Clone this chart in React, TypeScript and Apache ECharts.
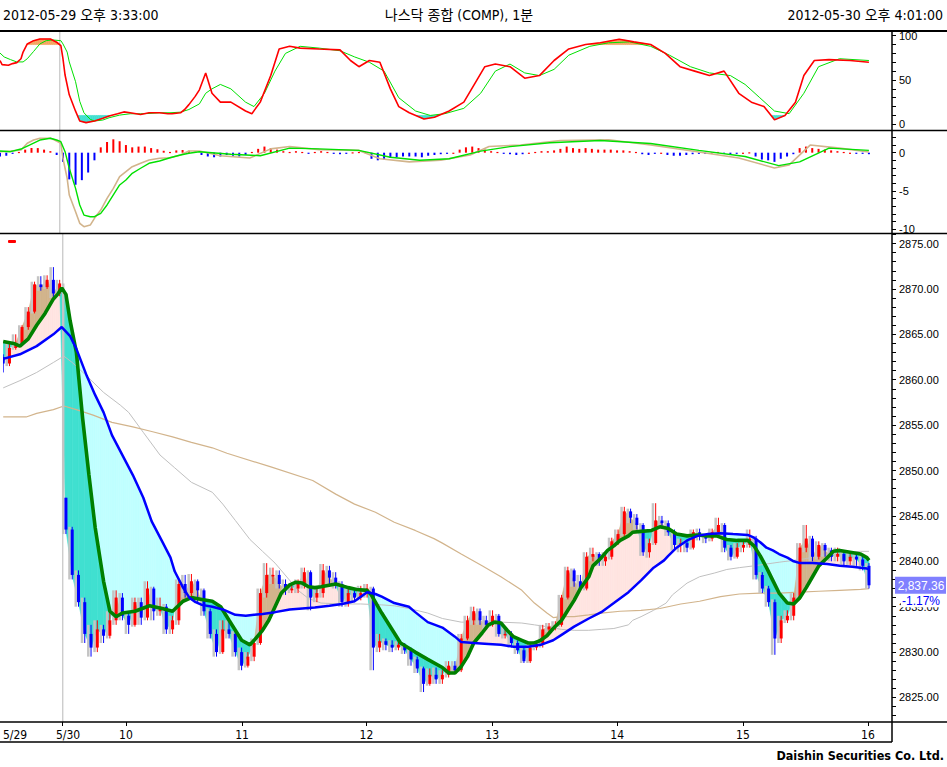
import React, { useEffect, useRef } from "react";
import * as echarts from "echarts";

// ---------------- data ----------------
const CANDLE_MINUTES = 3; // one candle per 3 one-minute bars
const opens = [
  2862.5, 2861.8, 2863.5, 2864.0, 2865.8, 2867.5, 2870.5, 2870.2, 2871.0, 2869.5,
  2847.0, 2843.5, 2838.5, 2835.5, 2832.0, 2830.5, 2832.5, 2831.8, 2833.5, 2836.0,
  2834.0, 2833.0, 2835.5, 2833.8, 2837.0, 2834.5, 2835.0, 2832.5, 2833.5, 2837.5,
  2836.5, 2837.8, 2836.8, 2834.5, 2832.0, 2830.0, 2832.5, 2832.0, 2830.0, 2828.5,
  2829.5, 2831.0, 2836.5, 2838.5, 2838.5, 2837.5, 2836.8, 2837.0, 2837.5, 2838.8,
  2836.0, 2836.5, 2839.0, 2838.2, 2837.5, 2835.5, 2836.5, 2836.0, 2836.5, 2837.0,
  2830.5, 2831.2, 2830.8, 2830.5, 2830.8, 2830.2, 2829.2, 2828.2, 2826.5, 2827.5,
  2827.0, 2827.5, 2828.5, 2828.0, 2831.5, 2833.5, 2834.5, 2833.5, 2833.0, 2834.0,
  2832.0, 2832.0, 2831.0, 2830.2, 2829.0, 2830.5, 2830.8, 2832.5, 2832.8, 2833.0,
  2836.0, 2839.0, 2837.8, 2837.0, 2840.5, 2840.8, 2840.0, 2840.5, 2842.2, 2843.0,
  2845.5, 2844.8, 2844.0, 2841.0, 2842.0, 2844.5, 2844.2, 2843.2, 2841.8, 2842.0,
  2841.5, 2843.2, 2842.8, 2842.5, 2843.2, 2844.0, 2841.5, 2840.5, 2841.5, 2841.8,
  2842.5, 2838.5, 2837.0, 2835.5, 2831.5, 2833.5, 2834.0, 2836.0, 2841.5, 2842.5,
  2840.5, 2841.8, 2841.2, 2840.5, 2840.8, 2840.0, 2840.5, 2840.2, 2839.5,
];
const closes = [
  2861.8, 2863.5, 2864.0, 2865.8, 2867.5, 2870.5, 2870.2, 2871.0, 2869.5, 2870.6,
  2843.5, 2838.5, 2835.5, 2832.0, 2830.5, 2832.5, 2831.8, 2833.5, 2836.0, 2834.0,
  2833.0, 2835.5, 2833.8, 2837.0, 2834.5, 2835.0, 2832.5, 2833.5, 2837.5, 2836.5,
  2837.8, 2836.8, 2834.5, 2832.0, 2830.0, 2832.5, 2832.0, 2830.0, 2828.5, 2829.5,
  2831.0, 2836.5, 2838.5, 2838.5, 2837.5, 2836.8, 2837.0, 2837.5, 2838.8, 2836.0,
  2836.5, 2839.0, 2838.2, 2837.5, 2835.5, 2836.5, 2836.0, 2836.5, 2837.0, 2830.5,
  2831.2, 2830.8, 2830.5, 2830.8, 2830.2, 2829.2, 2828.2, 2826.5, 2827.5, 2827.0,
  2827.5, 2828.5, 2828.0, 2831.5, 2833.5, 2834.5, 2833.5, 2833.0, 2834.0, 2832.0,
  2832.0, 2831.0, 2830.2, 2829.0, 2830.5, 2830.8, 2832.5, 2832.8, 2833.0, 2836.0,
  2839.0, 2837.8, 2837.0, 2840.5, 2840.8, 2840.0, 2840.5, 2842.2, 2843.0, 2845.5,
  2844.8, 2844.0, 2841.0, 2842.0, 2844.5, 2844.2, 2843.2, 2841.8, 2842.0, 2841.5,
  2843.2, 2842.8, 2842.5, 2843.2, 2844.0, 2841.5, 2840.5, 2841.5, 2841.8, 2842.5,
  2838.5, 2837.0, 2835.5, 2831.5, 2833.5, 2834.0, 2836.0, 2841.5, 2842.5, 2840.5,
  2841.8, 2841.2, 2840.5, 2840.8, 2840.0, 2840.5, 2840.2, 2839.5, 2837.36,
];
const lows = [
  2860.8, 2861.5, 2863.3, 2863.8, 2865.5, 2867.3, 2869.8, 2870.0, 2869.0, 2869.2,
  2843.0, 2838.0, 2835.0, 2831.0, 2829.5, 2830.0, 2831.0, 2831.5, 2833.0, 2833.5,
  2832.0, 2832.8, 2833.0, 2833.5, 2833.5, 2834.0, 2832.0, 2832.0, 2833.0, 2836.0,
  2836.0, 2835.5, 2834.0, 2831.5, 2829.5, 2829.8, 2831.5, 2829.5, 2828.0, 2828.3,
  2829.0, 2830.8, 2836.0, 2837.5, 2837.0, 2836.3, 2836.5, 2836.5, 2837.0, 2834.6,
  2835.5, 2836.0, 2837.5, 2837.0, 2835.0, 2835.0, 2835.5, 2835.7, 2836.0, 2828.0,
  2830.0, 2830.2, 2830.0, 2830.2, 2829.8, 2828.5, 2827.7, 2825.6, 2826.3, 2826.5,
  2826.5, 2827.2, 2827.7, 2827.8, 2831.3, 2833.0, 2833.0, 2832.5, 2832.8, 2831.7,
  2831.5, 2830.5, 2829.8, 2828.8, 2828.8, 2830.2, 2830.5, 2832.2, 2832.4, 2832.8,
  2835.8, 2837.2, 2836.8, 2836.8, 2840.0, 2839.5, 2839.5, 2840.2, 2841.8, 2842.8,
  2844.2, 2843.5, 2840.6, 2840.4, 2841.8, 2843.6, 2842.8, 2841.2, 2841.0, 2841.0,
  2841.3, 2842.3, 2842.0, 2842.2, 2843.0, 2841.0, 2840.1, 2840.3, 2841.0, 2841.5,
  2838.0, 2836.5, 2835.0, 2829.7, 2831.0, 2833.2, 2833.5, 2835.8, 2841.0, 2840.0,
  2840.2, 2840.5, 2840.0, 2840.0, 2839.5, 2839.6, 2839.5, 2839.0, 2837.0,
];
const highs = [
  2862.8, 2864.0, 2865.0, 2866.0, 2868.0, 2870.8, 2871.4, 2871.5, 2872.4, 2871.0,
  2847.0, 2843.8, 2839.0, 2836.0, 2833.0, 2833.5, 2833.0, 2834.5, 2836.8, 2836.5,
  2834.5, 2836.0, 2836.0, 2837.8, 2837.2, 2836.0, 2835.3, 2834.0, 2838.0, 2838.5,
  2838.6, 2838.0, 2837.0, 2834.8, 2832.5, 2833.5, 2833.5, 2832.3, 2830.5, 2830.0,
  2831.5, 2837.0, 2839.8, 2839.3, 2839.0, 2838.0, 2837.5, 2838.0, 2839.3, 2839.0,
  2837.0, 2839.7, 2839.5, 2838.8, 2837.8, 2837.0, 2836.8, 2837.3, 2837.5, 2837.2,
  2832.0, 2831.5, 2831.3, 2831.2, 2831.0, 2830.5, 2829.5, 2828.4, 2828.2, 2828.3,
  2828.0, 2829.0, 2829.0, 2832.0, 2834.0, 2835.0, 2834.8, 2834.0, 2834.6, 2834.2,
  2832.8, 2832.3, 2831.3, 2830.5, 2831.0, 2831.2, 2833.0, 2833.2, 2833.4, 2836.3,
  2839.4, 2839.2, 2838.5, 2841.0, 2841.5, 2841.0, 2841.0, 2842.6, 2843.5, 2846.0,
  2845.8, 2845.2, 2844.2, 2842.5, 2846.4, 2845.0, 2844.5, 2843.5, 2842.5, 2842.3,
  2843.5, 2843.6, 2843.0, 2843.6, 2844.8, 2844.2, 2841.8, 2842.0, 2842.3, 2843.5,
  2842.8, 2838.8, 2837.3, 2835.8, 2834.0, 2834.6, 2836.5, 2842.0, 2844.0, 2842.8,
  2842.2, 2842.0, 2841.5, 2841.5, 2841.2, 2841.0, 2840.8, 2840.6, 2839.8,
];

// moving averages: [minute index, value]
const maGreen = [
  [0, 2864.2], [5, 2864.0], [8, 2863.7], [12, 2864.5], [16, 2866.0], [20, 2867.3], [24, 2868.9],
  [26, 2869.4], [28, 2870.1], [30, 2869.4], [32, 2866.5], [35, 2863.0], [38, 2855.7], [41, 2849.5],
  [44, 2843.7], [48, 2837.8], [51, 2834.5], [54, 2833.9], [57, 2834.3], [63, 2834.5], [70, 2835.1],
  [76, 2834.8], [81, 2834.5], [86, 2835.6], [90, 2836.0], [95, 2835.8], [100, 2835.6], [104, 2835.0],
  [108, 2833.5], [111, 2832.4], [114, 2831.3], [118, 2830.8], [120, 2831.3], [124, 2832.4],
  [127, 2833.5], [130, 2835.0], [133, 2836.5], [137, 2837.4], [140, 2837.7], [143, 2837.6],
  [146, 2837.2], [149, 2837.1], [152, 2837.2], [159, 2837.5], [165, 2837.1], [169, 2836.9],
  [174, 2836.8], [176, 2836.3], [181, 2834.3], [187, 2832.1], [190, 2831.0], [197, 2830.0],
  [203, 2829.2], [210, 2828.3], [213, 2827.7], [216, 2827.7], [219, 2828.4], [222, 2829.5],
  [225, 2831.0], [229, 2832.1], [232, 2833.0], [235, 2833.3], [238, 2833.2], [241, 2832.4],
  [244, 2831.7], [248, 2831.3], [251, 2831.0], [254, 2831.0], [257, 2831.3], [260, 2831.8],
  [263, 2832.6], [267, 2833.5], [270, 2834.6], [273, 2835.7], [276, 2837.0], [280, 2838.3],
  [282, 2839.5], [286, 2840.4], [289, 2841.2], [292, 2841.7], [295, 2842.3], [299, 2842.8],
  [301, 2843.2], [305, 2843.3], [310, 2843.4], [314, 2843.8], [318, 2843.6], [322, 2843.0],
  [327, 2842.8], [332, 2842.9], [337, 2842.8], [341, 2842.8], [346, 2842.4], [351, 2842.3],
  [356, 2842.3], [359, 2841.7], [362, 2840.6], [365, 2839.3], [368, 2837.9], [371, 2836.5],
  [375, 2835.4], [378, 2835.3], [381, 2836.0], [384, 2837.1], [387, 2838.3], [390, 2839.5],
  [394, 2840.4], [397, 2841.1], [400, 2841.2], [405, 2841.0], [410, 2840.8], [413, 2840.4],
  [414, 2840.1],
];
const maBlue = [
  [0, 2862.3], [8, 2862.8], [16, 2863.7], [24, 2865.0], [28, 2865.8], [32, 2864.8], [35, 2863.4],
  [40, 2860.4], [44, 2858.3], [48, 2856.4], [52, 2853.9], [57, 2851.7], [62, 2849.5], [67, 2847.0],
  [71, 2844.4], [76, 2842.2], [80, 2840.4], [82, 2838.9], [86, 2837.1], [89, 2836.0], [92, 2835.5],
  [95, 2835.2], [100, 2835.0], [105, 2834.7], [108, 2834.4], [111, 2834.1], [116, 2834.0],
  [120, 2834.1], [124, 2834.2], [130, 2834.4], [137, 2834.7], [143, 2834.8], [149, 2834.9],
  [156, 2835.1], [162, 2835.3], [168, 2835.6], [174, 2836.6], [178, 2836.4], [181, 2836.1],
  [187, 2835.4], [194, 2835.0], [197, 2834.4], [203, 2833.3], [210, 2832.7], [216, 2831.7],
  [219, 2831.1], [225, 2831.0], [232, 2830.9], [238, 2830.8], [244, 2830.6], [251, 2830.6],
  [257, 2830.8], [263, 2831.3], [267, 2831.9], [273, 2832.8], [280, 2833.7], [286, 2834.4],
  [292, 2835.4], [299, 2836.6], [305, 2837.9], [311, 2839.3], [316, 2840.1], [318, 2840.6],
  [322, 2841.5], [327, 2842.3], [332, 2842.8], [337, 2843.0], [343, 2843.1], [349, 2843.0],
  [356, 2842.9], [359, 2842.6], [362, 2842.1], [365, 2841.5], [368, 2841.2], [371, 2840.8],
  [375, 2840.4], [378, 2840.0], [381, 2839.8], [387, 2839.8], [394, 2839.7], [400, 2839.5],
  [406, 2839.4], [413, 2839.2], [414, 2839.1],
];
const maGrey = [
  [0, 2859.1], [8, 2859.9], [16, 2860.8], [24, 2861.9], [29, 2862.6], [33, 2861.9], [40, 2860.4],
  [48, 2858.6], [56, 2857.2], [60, 2856.4], [67, 2854.2], [75, 2851.7], [82, 2850.3], [90, 2848.7],
  [100, 2847.6], [105, 2846.3], [111, 2844.5], [118, 2842.4], [124, 2841.1], [130, 2839.8],
  [137, 2837.9], [141, 2836.8], [146, 2835.9], [152, 2835.4], [162, 2835.3], [171, 2835.3],
  [181, 2835.2], [187, 2835.1], [194, 2834.8], [203, 2834.3], [210, 2833.7], [219, 2833.3],
  [229, 2833.3], [238, 2833.3], [248, 2833.2], [254, 2833.0], [260, 2832.8], [267, 2832.5],
  [273, 2832.4], [280, 2832.4], [286, 2832.5], [292, 2832.6], [299, 2833.0], [301, 2833.5],
  [305, 2833.9], [311, 2834.6], [317, 2835.4], [320, 2836.3], [327, 2837.6], [333, 2838.3],
  [340, 2838.7], [346, 2839.1], [352, 2839.3], [359, 2839.5], [365, 2839.7], [371, 2839.9],
  [378, 2840.1], [384, 2840.3], [390, 2840.6], [397, 2840.8], [403, 2841.0], [410, 2841.1],
  [414, 2841.1],
];
const maTan = [
  [0, 2855.9], [11, 2855.9], [16, 2856.3], [24, 2856.7], [29, 2857.1], [35, 2856.7], [43, 2856.1],
  [52, 2855.3], [62, 2854.8], [71, 2854.3], [81, 2853.7], [90, 2853.1], [100, 2852.5], [107, 2851.9],
  [128, 2850.4], [148, 2848.9], [159, 2847.4], [168, 2846.3], [178, 2845.4], [187, 2844.3],
  [197, 2843.4], [206, 2842.5], [210, 2842.0], [219, 2840.8], [229, 2839.5], [238, 2838.3],
  [248, 2836.8], [254, 2835.4], [260, 2834.3], [263, 2833.8], [267, 2833.9], [273, 2833.9],
  [280, 2834.1], [286, 2834.3], [295, 2834.5], [305, 2834.6], [314, 2834.8], [324, 2835.3],
  [333, 2835.6], [343, 2836.1], [352, 2836.4], [362, 2836.5], [371, 2836.5], [381, 2836.6],
  [390, 2836.7], [400, 2836.8], [410, 2836.9], [414, 2837.0],
];

// stochastics: [minute index, value]
const stochK = [
  [0, 72], [1, 67.4], [4, 66.7], [6, 68.5], [8, 69.6], [10, 74], [11, 81.5], [13, 90.7], [16, 94.4],
  [19, 96.3], [24, 96.3], [27, 92.6], [29, 88.9], [30, 74], [31, 55.6], [33, 33.3], [36, 14.8],
  [38, 3.7], [41, 1.9], [45, 3.7], [49, 6.7], [52, 9.3], [56, 11.9], [59, 14], [62, 13], [67, 11.1],
  [71, 13], [76, 13], [80, 11.9], [82, 11.9], [86, 13], [88, 16.7], [90, 22.2], [93, 31.5],
  [95, 38.9], [98, 58], [101, 35], [105, 25], [110, 25], [117, 15], [120, 12], [124, 25],
  [129, 55], [133, 85], [138, 88], [143, 86], [152, 85], [162, 84], [167, 72], [171, 65], [176, 72],
  [181, 70], [186, 40], [190, 20], [195, 13], [202, 6], [207, 8], [214, 15], [221, 25], [226, 45],
  [231, 65], [236, 68], [243, 65], [250, 52], [257, 55], [264, 72], [271, 85], [279, 90], [286, 92],
  [295, 96], [302, 93], [310, 90], [317, 80], [324, 65], [331, 60], [338, 55], [345, 60], [352, 35],
  [358, 25], [364, 20], [369, 5], [374, 10], [379, 25], [383, 55], [388, 72], [395, 73], [405, 72],
  [414, 70],
];
const stochD = [
  [0, 80.4], [2, 76], [5, 73], [8, 70.4], [11, 70.4], [13, 74], [16, 82.2], [19, 90.7], [22, 94.4],
  [25, 95.2], [29, 94.4], [30, 90.7], [32, 81.5], [33, 70.4], [36, 48.1], [38, 25.9], [40, 13],
  [43, 5.6], [45, 3.7], [49, 4.8], [52, 7.4], [57, 10.4], [62, 11.9], [67, 11.9], [71, 12.2],
  [76, 13], [81, 13], [86, 13.7], [90, 16.7], [95, 23], [98, 35], [101, 40], [105, 45], [110, 40],
  [117, 25], [121, 20], [126, 35], [131, 60], [136, 80], [143, 88], [152, 86], [162, 83], [169, 76],
  [176, 70], [183, 60], [190, 30], [198, 15], [205, 10], [212, 12], [221, 18], [229, 35], [236, 60],
  [243, 68], [250, 58], [257, 55], [264, 62], [271, 78], [281, 88], [290, 92], [300, 93], [310, 88],
  [319, 78], [329, 65], [338, 58], [348, 55], [355, 45], [362, 30], [369, 15], [376, 12], [383, 35],
  [390, 65], [400, 74], [414, 72],
];

// MACD: [minute index, value]
const macdLine = [
  [0, 0.13], [5, 0.2], [10, 0.35], [13, 1.23], [16, 1.66], [19, 1.89], [24, 1.89], [26, 1.66],
  [29, 1.23], [30, -0.73], [32, -3.36], [33, -5.54], [36, -7.73], [38, -9.25], [40, -9.7],
  [43, -9.48], [45, -8.6], [48, -7.51], [51, -5.98], [54, -4.67], [57, -3.15], [60, -2.49],
  [63, -1.83], [67, -1.39], [71, -0.96], [76, -0.73], [81, -0.66], [86, -0.3], [90, 0.22],
  [95, 0.22], [105, -0.4], [119, -0.7], [129, 0.5], [138, 0.8], [152, 0.4], [171, 0.3],
  [181, -0.8], [195, -1.2], [210, -1.0], [224, -0.3], [233, 0.8], [248, 1.0], [267, 1.6],
  [290, 1.7], [310, 1.0], [333, 0.1], [352, -0.7], [369, -2.0], [376, -1.6], [386, 1.0],
  [400, 0.6], [414, 0.1],
];
const macdSignal = [
  [0, 0.22], [5, 0.13], [10, 0.48], [14, 1.0], [19, 1.66], [24, 1.89], [27, 1.66], [29, 1.44],
  [31, 0.13], [33, -2.04], [36, -4.67], [38, -6.85], [40, -8.17], [43, -8.39], [45, -8.39],
  [48, -7.94], [51, -6.85], [54, -5.54], [57, -4.23], [60, -3.58], [63, -2.7], [67, -2.04],
  [71, -1.39], [76, -1.09], [81, -0.66], [86, -0.3], [90, -0.08], [95, 0.13], [110, -0.2],
  [124, -0.4], [138, 0.6], [152, 0.5], [171, 0.3], [186, -0.6], [200, -1.0], [214, -0.8],
  [229, 0.2], [243, 0.8], [262, 1.3], [286, 1.6], [310, 1.2], [333, 0.3], [355, -0.5],
  [371, -1.7], [381, -1.2], [395, 0.6], [414, 0.3],
];
// oscillator histogram, one value per candle
const macdHist = [
  -0.5, -0.4, -0.1, 0.1, 0.4, 0.6, 0.6, 0.4, 0.2, -0.3,
  -1.2, -3.5, -4.2, -3.6, -2.6, -1.0, 0.7, 1.4, 1.75, 1.5,
  1.0, 0.7, 0.8, 0.8, 0.6, 0.45, 0.25, 0.1, 0.3, 0.35,
  0.25, 0.15, -0.3, -0.5, -0.6, -0.5, -0.3, -0.4, -0.5, -0.3,
  0.1, 0.5, 0.8, 0.6, 0.4, 0.2, 0.1, 0.2, 0.1, -0.1,
  0.1, 0.2, 0.1, -0.1, -0.2, -0.1, 0.05, 0.1, 0.1, -0.8,
  -1.0, -0.9, -0.7, -0.6, -0.5, -0.5, -0.5, -0.6, -0.4, -0.3,
  -0.2, -0.1, 0.0, 0.4, 0.7, 0.8, 0.6, 0.4, 0.2, 0.1,
  -0.1, -0.2, -0.3, -0.2, 0.0, 0.1, 0.2, 0.2, 0.3, 0.5,
  0.8, 0.6, 0.5, 0.6, 0.5, 0.4, 0.4, 0.4, 0.3, 0.3,
  0.2, 0.1, -0.2, -0.3, -0.1, 0.0, -0.3, -0.4, -0.4, -0.3,
  -0.2, -0.1, -0.1, 0.0, 0.1, -0.1, -0.2, -0.1, 0.0, 0.05,
  -0.5, -0.9, -1.0, -1.2, -0.8, -0.5, -0.2, 0.6, 0.8, 0.6,
  0.5, 0.4, 0.3, 0.2, 0.1, 0.0, -0.1, -0.1, -0.2,
];

const lastPrice = 2837.36;
const changePct = -1.17;
const dayBreak = 28.5; // minute index of the 5/29 -> 5/30 boundary
const X_MAX = 425;
const STOCH_HIGH = 90;
const STOCH_LOW = 10;

const headerLeft = "2012-05-29 오후 3:33:00";
const headerCenter = "나스닥 종합 (COMP), 1분";
const headerRight = "2012-05-30 오후 4:01:00";
const footerText = "Daishin Securities Co. Ltd.";

const timeLabels = ["5/29", "5/30", "10", "11", "12", "13", "14", "15", "16"];
const timeLabelAt = [5.7, 31.0, 58.7, 114.2, 173.7, 233.8, 293.6, 353.7, 413.5];
const timeTickAt = [28.2, 58.7, 114.2, 173.7, 233.8, 293.6, 353.7, 413.5];
const stochLabels = [0, 50, 100];
const macdLabels = [-10, -5, 0];
const priceLabels = [2825, 2830, 2835, 2840, 2845, 2850, 2855, 2860, 2865, 2870, 2875];

// ---------------- helpers ----------------
const NARROW = '"Liberation Sans Narrow", "DejaVu Sans Condensed", "Noto Sans CJK KR", sans-serif';
const SANS = '"Liberation Sans", Arial, sans-serif';

function interp(p: number[][], m: number): number {
  if (m <= p[0][0]) return p[0][1];
  for (let i = 1; i < p.length; i++) {
    if (m <= p[i][0]) {
      const [x0, y0] = p[i - 1];
      const [x1, y1] = p[i];
      return y0 + ((y1 - y0) * (m - x0)) / (x1 - x0);
    }
  }
  return p[p.length - 1][1];
}

function rangeInt(a: number, b: number): number[] {
  const r: number[] = [];
  for (let i = a; i <= b; i++) r.push(i);
  return r;
}

function bandSeries(xi: number, yi: number, xs: number[], av: number[], bv: number[], upColor: string | null, downColor: string | null, z: number) {
  const data: number[][] = [];
  for (let i = 0; i < xs.length - 1; i++) data.push([xs[i], av[i], bv[i], xs[i + 1], av[i + 1], bv[i + 1]]);
  return {
    type: "custom",
    xAxisIndex: xi,
    yAxisIndex: yi,
    z,
    silent: true,
    clip: true,
    encode: { x: [0, 3], y: [1, 2, 4, 5] },
    data,
    renderItem: (_p: any, api: any) => {
      const x0 = api.value(0), a0 = api.value(1), b0 = api.value(2);
      const x1 = api.value(3), a1 = api.value(4), b1 = api.value(5);
      const d0 = a0 - b0, d1 = a1 - b1;
      const P = (x: number, y: number) => api.coord([x, y]);
      const parts: [number[][], boolean][] = [];
      if (d0 * d1 >= 0) {
        const s = d0 + d1;
        if (s !== 0) parts.push([[P(x0, a0), P(x1, a1), P(x1, b1), P(x0, b0)], s > 0]);
      } else {
        const t = d0 / (d0 - d1);
        const xc = x0 + t * (x1 - x0);
        const yc = a0 + t * (a1 - a0);
        parts.push([[P(x0, a0), P(xc, yc), P(x0, b0)], d0 > 0]);
        parts.push([[P(xc, yc), P(x1, a1), P(x1, b1)], d1 > 0]);
      }
      const children: any[] = [];
      for (const [pts, up] of parts) {
        const c = up ? upColor : downColor;
        if (!c) continue;
        children.push({ type: "polygon", shape: { points: pts }, style: { fill: c, stroke: c, lineWidth: 0.6 } });
      }
      return { type: "group", children };
    },
  };
}

function lineSeries(xi: number, yi: number, data: number[][], color: string, width: number, z: number) {
  return {
    type: "line",
    xAxisIndex: xi,
    yAxisIndex: yi,
    data,
    z,
    silent: true,
    symbol: "none",
    showSymbol: false,
    lineStyle: { color, width },
  };
}

function dividerSeries(xi: number, yi: number, lo: number, hi: number) {
  return lineSeries(xi, yi, [[dayBreak, lo], [dayBreak, hi]], "#b8b8b8", 1, 0);
}

function valueAxis(grid: number, min: number, max: number, labels: number[], tickStep: number, fmt: (v: number) => string) {
  const ticks: number[] = [];
  const start = Math.ceil(min / tickStep) * tickStep;
  for (let v = start; v <= max + 1e-9; v += tickStep) ticks.push(Math.round(v * 1000) / 1000);
  return {
    type: "value", gridIndex: grid, position: "right", min, max,
    axisLine: { show: false, onZero: false }, splitLine: { show: false },
    axisTick: { show: true, length: 4, customValues: ticks, lineStyle: { color: "#000", width: 1 } },
    axisLabel: { show: true, customValues: labels, formatter: fmt, color: "#000", fontSize: 11, fontFamily: SANS, margin: 7 },
  };
}

function buildOption() {
  const STOCH_MIN = -7, STOCH_MAX = 105.3;
  const MACD_MIN = -10.52, MACD_MAX = 2.84;
  const P_MIN = 2822.3, P_MAX = 2876.05;

  const candleX = closes.map((_c, k) => k * CANDLE_MINUTES);
  const candleData = closes.map((c, k) => [candleX[k], opens[k], c, lows[k], highs[k], k > 0 ? closes[k - 1] : opens[k]]);

  const fine = rangeInt(0, 414);
  const greenFine = fine.map((m) => interp(maGreen, m));
  const blueFine = fine.map((m) => interp(maBlue, m));
  const kFine = fine.map((m) => interp(stochK, m));
  const greenAtCandles = candleX.map((m) => interp(maGreen, m));

  const yAxes = [
    valueAxis(0, STOCH_MIN, STOCH_MAX, stochLabels, 10, (v) => String(v)),
    valueAxis(1, MACD_MIN, MACD_MAX, macdLabels, 1, (v) => String(v)),
    valueAxis(2, P_MIN, P_MAX, priceLabels, 1, (v) => v.toFixed(2)),
  ];

  const xAxes = [0, 1, 2].map((g) => ({
    type: "value",
    gridIndex: g,
    min: 0,
    max: X_MAX,
    show: g === 2,
    position: "bottom",
    axisLine: { show: false, onZero: false },
    splitLine: { show: false },
    axisTick: { show: g === 2, length: 4, customValues: timeTickAt, lineStyle: { color: "#000" } },
    axisLabel: {
      show: g === 2,
      customValues: timeLabelAt,
      formatter: (v: number) => {
        const i = timeLabelAt.indexOf(v);
        return i >= 0 ? timeLabels[i] : "";
      },
      color: "#000",
      fontSize: 12,
      fontFamily: NARROW,
      margin: 7,
    },
  }));

  const candleSeries = {
    type: "custom",
    xAxisIndex: 2,
    yAxisIndex: 2,
    z: 4,
    silent: true,
    clip: true,
    encode: { x: 0, y: [1, 2, 3, 4] },
    data: candleData,
    renderItem: (_p: any, api: any) => {
      const m = api.value(0), o = api.value(1), c = api.value(2), l = api.value(3), h = api.value(4), pc = api.value(5);
      const pO = api.coord([m, o]);
      const pC = api.coord([m, c]);
      const pL = api.coord([m, l]);
      const pH = api.coord([m, h]);
      const x = pO[0];
      const up = c >= o;
      const color = up ? "#ff0000" : "#0000ff";
      const top = Math.min(pO[1], pC[1]);
      const bot = Math.max(pO[1], pC[1]);
      const sTop = api.coord([m, Math.max(h, pc)])[1];
      const sBot = api.coord([m, Math.min(l, pc)])[1];
      return {
        type: "group",
        children: [
          { type: "rect", shape: { x: x - 4, y: sTop, width: 2.5, height: Math.max(1, sBot - sTop) }, style: { fill: "#c4c4c4" } },
          { type: "line", shape: { x1: x, y1: pH[1], x2: x, y2: pL[1] }, style: { stroke: color, lineWidth: 1 } },
          { type: "rect", shape: { x: x - 1.5, y: top, width: 3, height: Math.max(1.5, bot - top) }, style: { fill: color } },
        ],
      };
    },
  };

  const histSeries = {
    type: "custom",
    xAxisIndex: 1,
    yAxisIndex: 1,
    z: 2,
    silent: true,
    clip: true,
    encode: { x: 0, y: 1 },
    data: macdHist.map((v, k) => [candleX[k], v]),
    renderItem: (_p: any, api: any) => {
      const m = api.value(0), v = api.value(1);
      const p0 = api.coord([m, 0]);
      const p1 = api.coord([m, v]);
      const y = Math.min(p0[1], p1[1]);
      const hgt = Math.max(1.2, Math.abs(p1[1] - p0[1]));
      return { type: "rect", shape: { x: p0[0] - 1, y, width: 2, height: hgt }, style: { fill: v >= 0 ? "#ff0000" : "#0000ff" } };
    },
  };

  const priceTag = {
    type: "custom",
    xAxisIndex: 2,
    yAxisIndex: 2,
    z: 20,
    silent: true,
    clip: false,
    encode: { x: 0, y: 1 },
    data: [[X_MAX, lastPrice]],
    renderItem: (_p: any, api: any) => {
      const p = api.coord([api.value(0), api.value(1)]);
      const txt = api.value(1).toLocaleString("en-US", { minimumFractionDigits: 2, maximumFractionDigits: 2 });
      return {
        type: "group",
        children: [
          { type: "rect", shape: { x: p[0] + 3, y: p[1] - 8.5, width: 51, height: 17 }, style: { fill: "#8080ff" } },
          { type: "text", x: p[0] + 29, y: p[1] + 0.5, style: { text: txt, fill: "#ffffff", font: `12px ${SANS}`, align: "center", verticalAlign: "middle" } },
          {
            type: "text", x: p[0] + 29, y: p[1] + 16,
            style: { text: `${changePct.toFixed(2)}%`, fill: "#0000ff", font: `12px ${SANS}`, align: "center", verticalAlign: "middle", backgroundColor: "#ffffff", padding: [0, 1, 0, 1] },
          },
        ],
      };
    },
  };

  const series: any[] = [
    // stochastic panel
    dividerSeries(0, 0, STOCH_MIN, STOCH_MAX),
    bandSeries(0, 0, fine, kFine, fine.map(() => STOCH_HIGH), "#f4a460", null, 1),
    bandSeries(0, 0, fine, kFine, fine.map(() => STOCH_LOW), null, "#40e0d0", 1),
    lineSeries(0, 0, stochD, "#00e000", 1, 3),
    lineSeries(0, 0, stochK, "#ff0000", 1.6, 4),
    // MACD panel
    dividerSeries(1, 1, MACD_MIN, MACD_MAX),
    histSeries,
    lineSeries(1, 1, macdLine, "#d2b48c", 1.6, 3),
    lineSeries(1, 1, macdSignal, "#00e000", 1.4, 4),
    // price panel
    dividerSeries(2, 2, P_MIN, P_MAX),
    bandSeries(2, 2, fine, greenFine, blueFine, "#ffe4e1", "#c0ffff", 1),
    bandSeries(2, 2, candleX, closes, greenAtCandles, "#d2b48c", "#40e0d0", 2),
    lineSeries(2, 2, maGrey, "#c0c0c0", 1, 3),
    lineSeries(2, 2, maTan, "#d2b48c", 1.2, 3),
    candleSeries,
    lineSeries(2, 2, maGreen, "#008000", 3.6, 5),
    lineSeries(2, 2, maBlue, "#0000ff", 2.5, 6),
    priceTag,
  ];

  const hline = (y: number, x2: number, w: number) => ({
    type: "line", silent: true, z: 100, shape: { x1: 0, y1: y, x2, y2: y }, style: { stroke: "#000", lineWidth: w },
  });
  const headerFont = `14px ${NARROW}`;

  return {
    animation: false,
    backgroundColor: "#ffffff",
    grid: [
      { left: 0, right: 55, top: 31, height: 99.5 },
      { left: 0, right: 55, top: 131, height: 102 },
      { left: 0, right: 55, top: 234, height: 488 },
    ],
    xAxis: xAxes,
    yAxis: yAxes,
    series,
    graphic: [
      hline(31, 947, 2),
      hline(130.5, 947, 1.5),
      hline(233.5, 947, 1.5),
      hline(722, 947, 1.5),
      hline(742, 892, 1.5),
      { type: "line", silent: true, z: 100, shape: { x1: 892, y1: 31, x2: 892, y2: 742 }, style: { stroke: "#000", lineWidth: 1.5 } },
      { type: "rect", silent: true, z: 100, shape: { x: 8, y: 240, width: 8, height: 3, r: 1 }, style: { fill: "#ff0000" } },
      { type: "text", silent: true, x: 3, y: 15, style: { text: headerLeft, font: headerFont, fill: "#000", align: "left", verticalAlign: "middle" } },
      { type: "text", silent: true, x: 459, y: 15, style: { text: headerCenter, font: headerFont, fill: "#000", align: "center", verticalAlign: "middle" } },
      { type: "text", silent: true, x: 943, y: 15, style: { text: headerRight, font: headerFont, fill: "#000", align: "right", verticalAlign: "middle" } },
      { type: "text", silent: true, x: 944, y: 755, style: { text: footerText, font: `bold 12.5px ${NARROW}`, fill: "#000", align: "right", verticalAlign: "middle" } },
    ],
  };
}

export default function App() {
  const ref = useRef<HTMLDivElement>(null);
  useEffect(() => {
    if (!ref.current) return;
    const chart = echarts.init(ref.current, null, { renderer: "svg" });
    chart.setOption(buildOption() as any);
    return () => chart.dispose();
  }, []);
  return <div ref={ref} style={{ position: "absolute", left: 0, top: 0, width: 947, height: 767, background: "#fff" }} />;
}
